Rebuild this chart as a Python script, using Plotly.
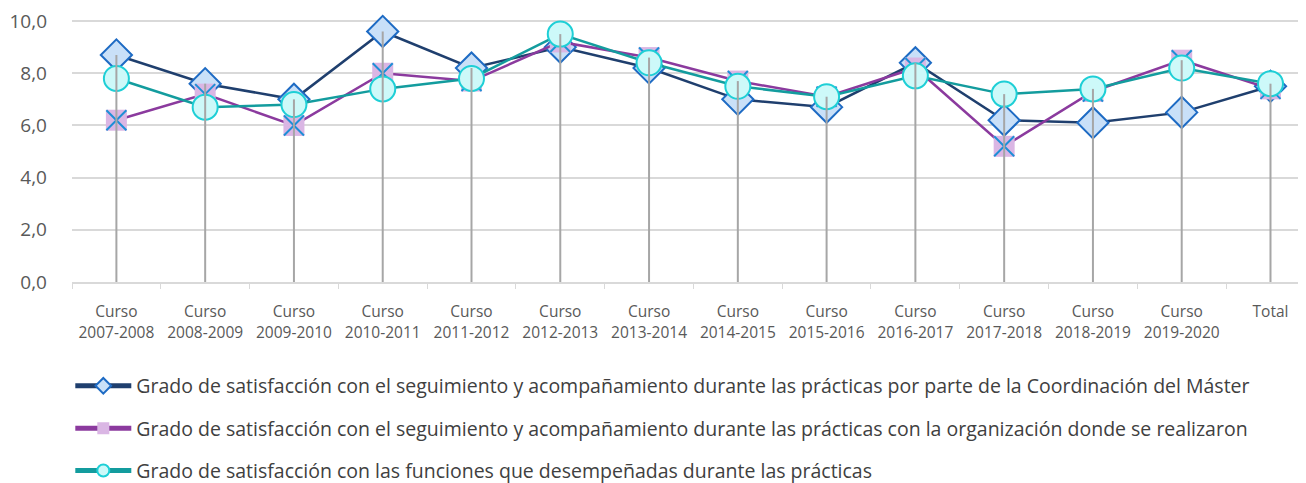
import plotly.graph_objects as go

cursos = ["Curso<br>2007-2008", "Curso<br>2008-2009", "Curso<br>2009-2010", "Curso<br>2010-2011",
          "Curso<br>2011-2012", "Curso<br>2012-2013", "Curso<br>2013-2014", "Curso<br>2014-2015",
          "Curso<br>2015-2016", "Curso<br>2016-2017", "Curso<br>2017-2018", "Curso<br>2018-2019",
          "Curso<br>2019-2020", "Total"]

coordinacion = [8.7, 7.6, 7.0, 9.6, 8.2, 9.0, 8.2, 7.0, 6.7, 8.4, 6.2, 6.1, 6.5, 7.5]
organizacion = [6.2, 7.2, 6.0, 8.0, 7.7, 9.2, 8.6, 7.7, 7.1, 8.2, 5.2, 7.3, 8.5, 7.4]
funciones = [7.8, 6.7, 6.8, 7.4, 7.8, 9.5, 8.4, 7.5, 7.1, 7.9, 7.2, 7.4, 8.2, 7.6]

nombres = [
    "Grado de satisfacción con el seguimiento y acompañamiento durante las prácticas por parte de la Coordinación del Máster",
    "Grado de satisfacción con el seguimiento y acompañamiento durante las prácticas con la organización donde se realizaron",
    "Grado de satisfacción con las funciones que desempeñadas durante las prácticas",
]

FONT = "Open Sans"

fig = go.Figure()

fig.add_trace(go.Scatter(
    name=nombres[0], x=cursos, y=coordinacion, mode="lines+markers",
    line=dict(color="#1F3F6E", width=2.5),
    marker=dict(symbol="diamond", size=24, color="#C9E0F8", line=dict(color="#1E6BC4", width=2)),
    legendgroup="a", cliponaxis=False,
))

fig.add_trace(go.Scatter(
    name=nombres[1], x=cursos, y=organizacion, mode="lines+markers",
    line=dict(color="#8B3A9E", width=2.5),
    marker=dict(symbol="square", size=21, color="#DAB6E4", line=dict(width=0)),
    legendgroup="b", cliponaxis=False,
))
fig.add_trace(go.Scatter(
    x=cursos, y=organizacion, mode="markers", showlegend=False, hoverinfo="skip",
    marker=dict(symbol="x-thin", size=20, line=dict(color="#1D8FD6", width=2)),
    legendgroup="b", cliponaxis=False,
))

fig.add_trace(go.Scatter(
    name=nombres[2], x=cursos, y=funciones, mode="lines+markers",
    line=dict(color="#139C9E", width=2.5),
    marker=dict(symbol="circle", size=25, color="#CDF9F9", line=dict(color="#1ECFD6", width=2)),
    legendgroup="c", cliponaxis=False,
))

# lineas de caida desde el maximo de cada curso
drop_x, drop_y = [], []
for i, c in enumerate(cursos):
    drop_x += [c, c, None]
    drop_y += [0, max(coordinacion[i], organizacion[i], funciones[i]), None]
fig.add_trace(go.Scatter(
    x=drop_x, y=drop_y, mode="lines", showlegend=False, hoverinfo="skip",
    line=dict(color="#A6A6A6", width=2), cliponaxis=False,
))

fig.update_layout(
    width=1298, height=475,
    margin=dict(l=64, r=0, t=12, b=201, autoexpand=False),
    plot_bgcolor="white", paper_bgcolor="white",
    separators=",.",
    font=dict(family=FONT, color="#595959"),
    showlegend=True,
    legend=dict(
        orientation="v", x=0.048, xref="container", xanchor="left",
        y=0.245, yref="container", yanchor="top",
        font=dict(size=19.5, color="#404040", family=FONT),
        traceorder="grouped", tracegroupgap=14, itemsizing="constant", itemwidth=56,
        bgcolor="rgba(0,0,0,0)",
    ),
    xaxis=dict(
        range=[-0.5, 13.4], showgrid=False, showline=True, linecolor="#D9D9D9", linewidth=1.5,
        ticks="outside", tickson="boundaries", ticklen=5, tickcolor="#D9D9D9",
        ticklabelstandoff=15,
        tickfont=dict(size=15.5, color="#595959"), fixedrange=True,
    ),
    yaxis=dict(
        range=[0, 10.04], tickvals=[0, 2, 4, 6, 8, 10], tickformat=".1f",
        showgrid=True, gridcolor="#D9D9D9", gridwidth=1.5, ticklabeloverflow="allow",
        zeroline=False, showline=False, ticklabelstandoff=24,
        tickfont=dict(size=19, color="#595959"), fixedrange=True,
    ),
)

fig.write_html("out.html")
